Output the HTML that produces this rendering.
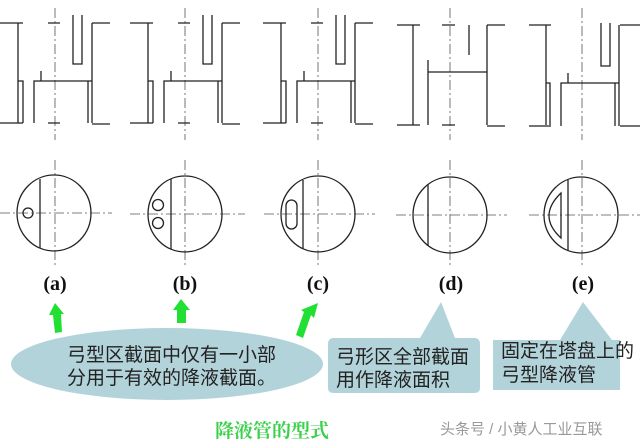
<!DOCTYPE html>
<html><head><meta charset="utf-8"><style>
html,body{margin:0;padding:0;background:#fff;width:640px;height:442px;overflow:hidden}
svg{display:block}
.l{stroke:#222;stroke-width:1.3;fill:none}
.c{stroke:#555;stroke-width:0.8;stroke-dasharray:10,3,2,3;fill:none}
.t{font-family:"Liberation Sans","Noto Sans CJK SC",sans-serif;font-size:19px;fill:#222}
.lab{font-family:"Liberation Serif",serif;font-weight:bold;font-size:20px;fill:#111}
</style></head><body>
<svg width="640" height="442" viewBox="0 0 640 442" xmlns="http://www.w3.org/2000/svg">
<defs>
<g id="top">
  <path class="l" d="M-55 23H-32M-37 23V123M-37 81H-32V123M-55 123H-32"/>
  <path class="c" d="M0 8V140"/>
  <path class="l" d="M-7 23H5M-7 123H5"/>
  <path class="l" d="M18 15V64H27V15"/>
  <path class="l" d="M37 23H55M37 23V123M37 124H55"/>
  <path class="l" d="M-21 123V81H37M-14 81V71M33 81V123"/>
</g>
</defs>
<use href="#top" x="55"/>
<use href="#top" x="185"/>
<use href="#top" x="318"/>
<g>
  <path class="l" d="M397 25H420M413 25V125M397 125H420"/>
  <path class="c" d="M450 8V140"/>
  <path class="l" d="M442 25H455M442 125H455"/>
  <path class="l" d="M469 25V55"/>
  <path class="l" d="M428 60V125M428 72H487M487 25V125M487 25H505M487 126H505"/>
</g>
<g>
  <path class="l" d="M529 25H551M546 25V125M529 126H551M546 83H550V125"/>
  <path class="c" d="M582 8V140"/>
  <path class="l" d="M601 23V66H610V23"/>
  <path class="l" d="M620 25H640M619 25V126M620 126H640M615 83V126"/>
  <path class="l" d="M561 126V83H619M568 83V73"/>
</g>
<!-- circles -->
<g>
  <path class="c" d="M55 160V265M0 213H112"/>
  <ellipse class="l" cx="54" cy="213" rx="37" ry="38"/>
  <path class="l" d="M40 179V248"/>
  <circle class="l" cx="28" cy="213" r="5"/>

  <path class="c" d="M185 160V265M130 214H245"/>
  <ellipse class="l" cx="185" cy="214" rx="37" ry="38"/>
  <path class="l" d="M171 179V249"/>
  <circle class="l" cx="158" cy="205" r="5.5"/>
  <circle class="l" cx="158" cy="223" r="5.5"/>

  <path class="c" d="M318 160V265M264 214H375"/>
  <ellipse class="l" cx="318" cy="214" rx="37" ry="38"/>
  <path class="l" d="M303 180V249"/>
  <rect class="l" x="286" y="200" width="11" height="29" rx="5.5"/>

  <path class="c" d="M450 160V265M396 215H507"/>
  <ellipse class="l" cx="450" cy="215" rx="37" ry="38"/>
  <path class="l" d="M428 184V246"/>

  <path class="c" d="M582 160V265M529 215H640"/>
  <ellipse class="l" cx="581" cy="215" rx="37" ry="38"/>
  <path class="l" d="M568 180V251"/>
  <path class="l" d="M561 193Q537 216 561 238Z"/>
</g>
<text class="lab" x="55" y="290" text-anchor="middle">(a)</text>
<text class="lab" x="185" y="290" text-anchor="middle">(b)</text>
<text class="lab" x="318" y="290" text-anchor="middle">(c)</text>
<text class="lab" x="451" y="290" text-anchor="middle">(d)</text>
<text class="lab" x="583" y="290" text-anchor="middle">(e)</text>
<g fill="#22e033">
  <polygon points="55,303 64,314 61,314 62,332 55,333 53,315 49,315"/>
  <polygon points="181,299 190,310 186,310 186,323 177,323 177,310 173,310"/>
  <polygon points="318,303 314,318 311,315 303,338 296,335 304,312 301,310"/>
</g>
<ellipse cx="167" cy="364" rx="156" ry="36" fill="#b3d3da"/>
<path d="M330 338H420L441 302L455 338H474Q480 338 480 344V388Q480 393 474 393H334Q328 393 328 388V344Q328 338 334 338Z" fill="#b3d3da"/>
<path d="M493 340H560L583 302L612 340H620V390H493Z" fill="#b3d3da"/>
<text class="t" x="67" y="361">弓型区截面中仅有一小部</text>
<text class="t" x="67" y="384">分用于有效的降液截面。</text>
<text class="t" x="336" y="363">弓形区全部截面</text>
<text class="t" x="336" y="386">用作降液面积</text>
<text class="t" x="501" y="357">固定在塔盘上的</text>
<text class="t" x="501" y="381">弓型降液管</text>
<text x="215" y="437" font-family="'Noto Serif CJK SC',serif" font-weight="bold" font-size="19" fill="#3ad04a">降液管的型式</text>
<text x="440" y="434" font-family="'Liberation Sans','Noto Sans CJK SC',sans-serif" font-size="15" fill="#999">头条号 / 小黄人工业互联</text>
</svg>
</body></html>
